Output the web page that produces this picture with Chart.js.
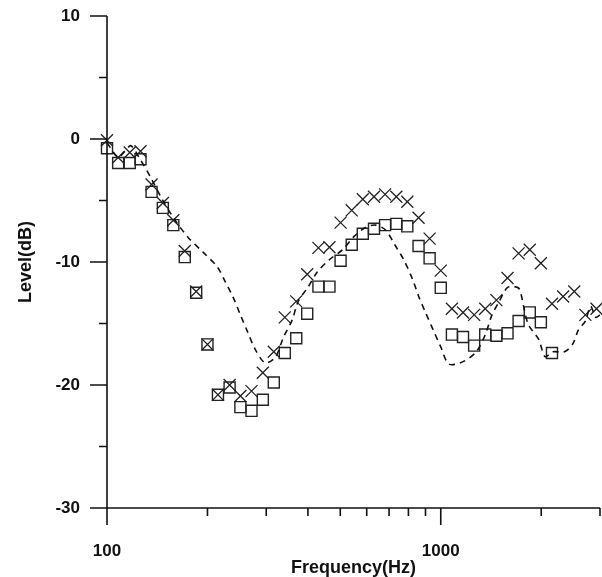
<!DOCTYPE html>
<html>
<head>
<meta charset="utf-8">
<script src="https://cdn.jsdelivr.net/npm/chart.js@4.4.1/dist/chart.umd.min.js"></script>
<style>
  html,body{margin:0;padding:0;background:#fff;}
  #wrap{width:602px;height:577px;position:relative;}
</style>
</head>
<body>
<div id="wrap"><canvas id="c" width="602" height="577"></canvas></div>
<script>
// measurement frequencies (Hz), 30 per decade
const freqs=[100,108,117,126,136,147,158,171,185,200,215,233,251,271,293,316,341,369,398,430,
  464,501,541,584,631,681,736,794,858,926,1000,1080,1166,1259,1359,1468,1585,1711,1848,1995,
  2154,2326,2512,2712,2929];
// "x" markers
const crossLevel=[-0.1,-1.5,-1.1,-1.0,-3.7,-5.2,-6.6,-9.1,-12.4,-16.7,-20.8,-20.0,-20.9,-20.5,-19.0,
  -17.3,-14.5,-13.2,-11.0,-8.85,-8.8,-6.8,-5.8,-4.9,-4.7,-4.5,-4.7,-5.1,-6.4,-8.1,-10.7,-13.8,-14.1,
  -14.3,-13.8,-13.1,-11.3,-9.3,-9.0,-10.1,-13.4,-12.8,-12.4,-14.3,-13.8];
// square markers (first 41 frequencies)
const squareLevel=[-0.75,-1.95,-1.95,-1.65,-4.3,-5.6,-7.0,-9.6,-12.5,-16.7,-20.8,-20.2,-21.8,-22.1,
  -21.2,-19.8,-17.4,-16.2,-14.2,-12.0,-12.0,-9.9,-8.6,-7.7,-7.3,-7.0,-6.9,-7.1,-8.7,-9.7,-12.1,-15.9,
  -16.1,-16.8,-15.9,-16.0,-15.8,-14.8,-14.1,-14.9,-17.4];
// dashed curve
const dashFreq=[100,108,113,118,126,135,146,159,175,194,214,226,239,251,263,278,298,320,338,359,374,
  399,427,464,508,551,595,637,683,732,774,823,859,900,952,1000,1059,1167,1277,1360,1419,1497,1580,
  1660,1720,1781,1831,1966,2054,2169,2346,2482,2588,2712,2812,2915,3000];
const dashLevel=[-0.3,-1.5,-1.0,-0.55,-1.7,-3.1,-4.85,-6.5,-8.0,-9.2,-10.4,-11.6,-12.9,-14.3,-15.6,
  -17.1,-18.2,-17.7,-16.1,-14.7,-13.2,-12.1,-10.8,-9.8,-9.0,-7.9,-7.2,-7.0,-7.4,-8.7,-9.8,-11.4,-12.8,
  -14.1,-15.6,-16.9,-18.3,-18.1,-17.3,-15.9,-14.4,-13.2,-12.1,-12.0,-12.2,-13.9,-15.1,-16.3,-17.7,
  -17.3,-17.3,-16.7,-15.5,-14.8,-13.6,-14.5,-14.3];

const xMajor=[100,1000];
const xMinor=[200,300,400,500,600,700,800,900,2000,3000];
const yMajor=[10,0,-10,-20,-30];
const yMinor=[5,-5,-15,-25];

const FONT='"Liberation Sans", Arial, Helvetica, sans-serif';
const INK='#111';

const pts=(xs,ys)=>ys.map((v,i)=>({x:xs[i],y:v}));

// axis lines and tick marks, placed with the chart's own scales
const axesPlugin={
  id:'axes',
  afterDatasetsDraw(chart){
    const {ctx,scales:{x,y}}=chart;
    const x0=x.getPixelForValue(100), xr=x.getPixelForValue(3000);
    const yTop=y.getPixelForValue(10), y0=y.getPixelForValue(-30);
    ctx.save();
    ctx.strokeStyle=INK;
    ctx.lineWidth=1.6;
    ctx.beginPath();
    ctx.moveTo(x0,yTop);ctx.lineTo(x0,y0+17);
    ctx.moveTo(x0-16,y0);ctx.lineTo(xr,y0);
    yMajor.forEach(v=>{const p=y.getPixelForValue(v);ctx.moveTo(x0-17,p);ctx.lineTo(x0,p);});
    yMinor.forEach(v=>{const p=y.getPixelForValue(v);ctx.moveTo(x0-8,p);ctx.lineTo(x0,p);});
    xMajor.forEach(v=>{const p=x.getPixelForValue(v);ctx.moveTo(p,y0);ctx.lineTo(p,y0+17);});
    xMinor.forEach(v=>{const p=x.getPixelForValue(v);ctx.moveTo(p,y0);ctx.lineTo(p,y0+8);});
    ctx.stroke();
    ctx.restore();
  }
};

new Chart(document.getElementById('c'),{
  type:'scatter',
  data:{datasets:[
    {label:'dashed',data:pts(dashFreq,dashLevel),showLine:true,pointRadius:0,borderColor:INK,
      borderWidth:1.6,borderDash:[6,5],tension:0.3,fill:false},
    {label:'square',data:pts(freqs,squareLevel),pointStyle:'rect',pointRadius:7.8,
      pointBorderColor:'#222',pointBackgroundColor:'rgba(0,0,0,0)',pointBorderWidth:1.4,clip:false},
    {label:'cross',data:pts(freqs,crossLevel),pointStyle:'crossRot',pointRadius:8.5,
      pointBorderColor:'#222',pointBorderWidth:1.3,clip:false}
  ]},
  options:{
    responsive:false,
    animation:false,
    events:[],
    layout:{autoPadding:false,padding:{left:0,right:2,top:16,bottom:0}},
    plugins:{legend:{display:false},tooltip:{enabled:false}},
    scales:{
      x:{
        type:'logarithmic',min:100,max:3000,
        afterBuildTicks:s=>{s.ticks=xMajor.map(v=>({value:v}));},
        afterFit:s=>{s.height=69;s.paddingLeft=0;s.paddingRight=0;},
        grid:{display:false,drawTicks:false},
        border:{display:false},
        ticks:{autoSkip:false,maxRotation:0,padding:33,color:INK,
          font:{family:FONT,size:17,weight:'bold'},callback:v=>String(v)},
        title:{display:true,text:'Frequency(Hz)',color:INK,padding:{top:0,bottom:0},
          font:{family:FONT,size:18,weight:'bold',lineHeight:1}}
      },
      y:{
        min:-30,max:10,
        afterBuildTicks:s=>{s.ticks=yMajor.map(v=>({value:v}));},
        afterFit:s=>{s.width=107;s.paddingTop=0;s.paddingBottom=0;},
        grid:{display:false,drawTicks:false},
        border:{display:false},
        ticks:{padding:27,color:INK,font:{family:FONT,size:17,weight:'bold'}},
        title:{display:true,text:'Level(dB)',color:INK,padding:{top:15,bottom:0},
          font:{family:FONT,size:18,weight:'bold',lineHeight:1.2}}
      }
    }
  },
  plugins:[axesPlugin]
});
</script>
</body>
</html>
